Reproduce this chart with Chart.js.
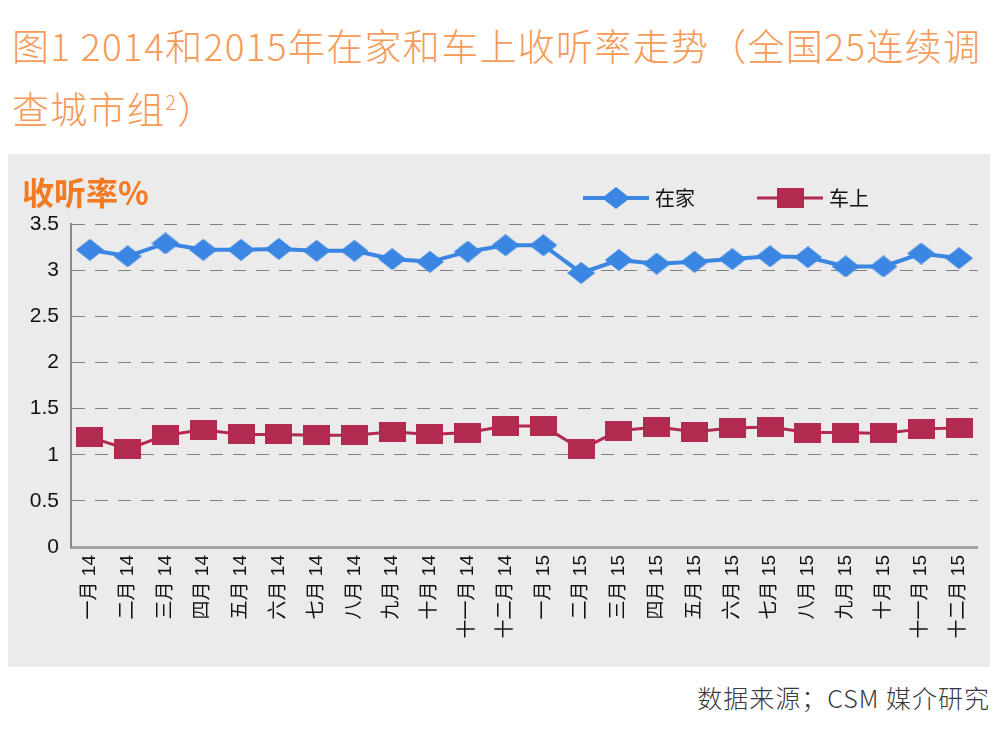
<!DOCTYPE html>
<html>
<head>
<meta charset="utf-8">
<script src="https://cdn.jsdelivr.net/npm/chart.js@4.4.1/dist/chart.umd.min.js"></script>
<style>
    body { margin: 0; background: #fff; width: 1000px; height: 736px; position: relative; overflow: hidden; }
    .title { position: absolute; left: 12px; font-family: "Noto Sans CJK SC", sans-serif; font-weight: 300; font-size: 37px; letter-spacing: 1.3px; color: #f69a58; white-space: nowrap; line-height: 1; }
    .title sup { font-size: 20px; vertical-align: 14px; }
    #t1 { top: 27px; }
    #t2 { top: 90px; }
    .panel { position: absolute; left: 8px; top: 154px; width: 982px; height: 513px; background: #ebebeb; }
    .source { position: absolute; right: 10px; top: 685px; font-family: "Noto Sans CJK SC", sans-serif; font-weight: 300; font-size: 25px; color: #3a3a3a; letter-spacing: 1px; line-height: 1; }
</style>
</head>
<body>
<div class="title" id="t1">图1 2014和2015年在家和车上收听率走势（全国25连续调</div>
<div class="title" id="t2">查城市组<sup>2</sup>）</div>
<div class="panel"><canvas id="chart" width="982" height="513"></canvas></div>
<div class="source">数据来源；CSM 媒介研究</div>
<script>
const labels = ['一月 14', '二月 14', '三月 14', '四月 14', '五月 14', '六月 14', '七月 14', '八月 14', '九月 14', '十月 14', '十一月 14', '十二月 14',
    '一月 15', '二月 15', '三月 15', '四月 15', '五月 15', '六月 15', '七月 15', '八月 15', '九月 15', '十月 15', '十一月 15', '十二月 15'];
const homeValues = [3.22, 3.15, 3.29, 3.22, 3.22, 3.23, 3.21, 3.21, 3.12, 3.09, 3.20, 3.27,
    3.27, 2.97, 3.11, 3.07, 3.09, 3.12, 3.15, 3.14, 3.04, 3.04, 3.18, 3.13];
const carValues = [1.19, 1.06, 1.21, 1.27, 1.22, 1.22, 1.21, 1.21, 1.25, 1.22, 1.24, 1.31,
    1.31, 1.06, 1.26, 1.30, 1.25, 1.29, 1.30, 1.24, 1.24, 1.23, 1.28, 1.29];
const yTickLabels = ['0', '0.5', '1', '1.5', '2', '2.5', '3', '3.5'];
const seriesNames = ['在家', '车上'];
const yAxisName = '收听率%';

const blue = '#3a86e2';
const red = '#b22a50';

function makeMarker(w, h, color, shape) {
    const c = document.createElement('canvas');
    c.width = w;
    c.height = h;
    const ctx = c.getContext('2d');
    ctx.fillStyle = color;
    ctx.beginPath();
    if (shape === 'diamond') {
        ctx.moveTo(w / 2, 0);
        ctx.lineTo(w, h / 2);
        ctx.lineTo(w / 2, h);
        ctx.lineTo(0, h / 2);
        ctx.closePath();
    } else {
        ctx.rect(0, 0, w, h);
    }
    ctx.fill();
    return c;
}

const diamond = makeMarker(28, 22, blue, 'diamond');
const square = makeMarker(27, 20, red, 'rect');

// y axis name and legend (line through marker), drawn on top
const extras = {
    id: 'extras',
    afterDraw(chart) {
        const ctx = chart.ctx;
        ctx.save();
        ctx.fillStyle = '#f27a22';
        ctx.font = 'bold 32px "Noto Sans CJK SC", sans-serif';
        ctx.textBaseline = 'middle';
        ctx.textAlign = 'left';
        ctx.fillText(yAxisName, 14, 39);

        const items = [
            { x: 575, color: blue, width: 4, marker: diamond },
            { x: 749, color: red, width: 3, marker: square }
        ];
        const y = 44;
        items.forEach((it, i) => {
            ctx.strokeStyle = it.color;
            ctx.lineWidth = it.width;
            ctx.beginPath();
            ctx.moveTo(it.x, y);
            ctx.lineTo(it.x + 66, y);
            ctx.stroke();
            ctx.drawImage(it.marker, it.x + 33 - it.marker.width / 2, y - it.marker.height / 2);
            ctx.fillStyle = '#111';
            ctx.font = '20px "Noto Sans CJK SC", sans-serif';
            ctx.fillText(seriesNames[i], it.x + 72, y);
        });
        ctx.restore();
    }
};

Chart.defaults.font.family = '"Liberation Sans", Arial, "Noto Sans CJK SC", sans-serif';

new Chart(document.getElementById('chart'), {
    type: 'line',
    data: {
        labels: labels,
        datasets: [
            {
                label: seriesNames[0],
                data: homeValues,
                borderColor: blue,
                backgroundColor: blue,
                borderWidth: 4,
                pointStyle: diamond,
                tension: 0
            },
            {
                label: seriesNames[1],
                data: carValues,
                borderColor: red,
                backgroundColor: red,
                borderWidth: 3,
                pointStyle: square,
                tension: 0
            }
        ]
    },
    options: {
        responsive: false,
        animation: false,
        events: [],
        layout: { padding: { top: 70, right: 7, left: 0, bottom: 0 } },
        plugins: { legend: { display: false }, title: { display: false }, tooltip: { enabled: false } },
        scales: {
            x: {
                offset: true,
                afterFit: s => { s.height = 120; },
                grid: { display: false, drawTicks: false },
                border: { display: true, color: '#a3a3a3', width: 3 },
                ticks: {
                    autoSkip: false,
                    minRotation: 90,
                    maxRotation: 90,
                    padding: 8,
                    color: '#111',
                    font: { size: 19 }
                }
            },
            y: {
                min: 0,
                max: 3.5,
                afterFit: s => { s.width = 63; },
                grid: { color: '#808080', lineWidth: 1, drawTicks: false },
                border: { display: true, color: '#8a8a8a', width: 2, dash: [13, 10] },
                ticks: {
                    stepSize: 0.5,
                    padding: 12,
                    color: '#111',
                    font: { size: 21 },
                    callback: (value, index) => yTickLabels[index]
                }
            }
        }
    },
    plugins: [extras]
});
</script>
</body>
</html>
